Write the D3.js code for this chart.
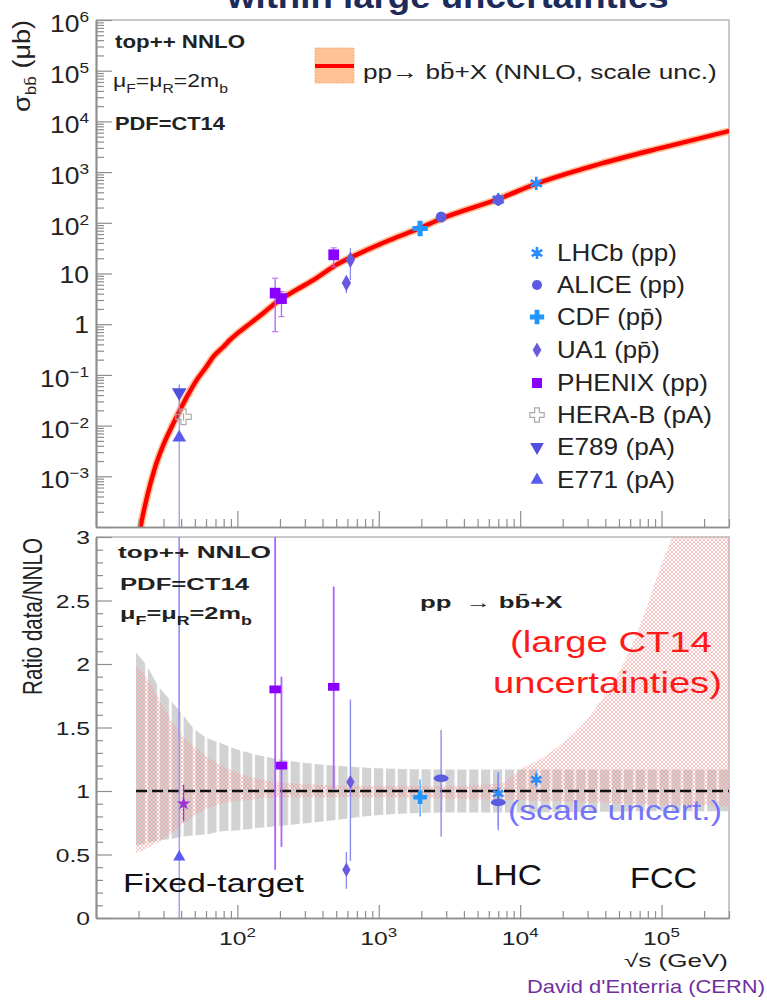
<!DOCTYPE html>
<html><head><meta charset="utf-8">
<script src="https://cdn.jsdelivr.net/npm/d3@7"></script>
<style>
body{margin:0;background:#fff}
svg{display:block}
text{font-family:"Liberation Sans",Arial,Helvetica,sans-serif;white-space:pre}
</style>
</head><body>
<svg id="c" width="767" height="1000"></svg>
<script>
// ---------------- DATA ----------------
// NNLO central prediction (sqrt(s) in GeV, sigma in microbarn)
const nnloSqrtS=[19.5,20,21,23,26,30,34.3,39.3,45,51.5,60,67.6,80,88.7,100,116,152,190,263,344,500,775,1200,1960,2760,7000,13000,36500,100000,300000];
const nnloSigma=[2.5e-5,5.6e-5,1.26e-4,4.0e-4,1.41e-3,4.2e-3,9.5e-3,0.0204,0.0417,0.079,0.141,0.229,0.363,0.49,0.66,0.91,1.64,2.75,4.8,7.4,14.8,26.9,45.7,79,120,295,589,1445,3020,6460];

// scale-uncertainty band (ratio to NNLO)
const scaleBandS=[19.2,23,27.4,33.3,40.6,48.5,61,75,104,144,225,474,970,3000,10000,100000,300000];
const scaleBandUp=[2.09,1.98,1.83,1.72,1.61,1.50,1.42,1.38,1.32,1.28,1.24,1.20,1.18,1.17,1.17,1.17,1.17];
const scaleBandDn=[0.57,0.59,0.61,0.62,0.64,0.65,0.66,0.68,0.69,0.71,0.73,0.77,0.81,0.83,0.83,0.84,0.84];

// CT14 PDF-uncertainty band (ratio to NNLO)
const pdfBandS=[19.2,24,30,37,46,61,84,123,190,370,830,3000,7200,10000,13800,19100,26500,36700,50800,70300,97500,118600,187000,300000];
const pdfBandUp=[1.99,1.85,1.66,1.50,1.38,1.27,1.18,1.11,1.07,1.05,1.04,1.04,1.06,1.17,1.25,1.36,1.50,1.70,1.95,2.30,2.75,3.0,3.8,4.5];
const pdfBandDn=[0.51,0.56,0.62,0.70,0.78,0.86,0.91,0.93,0.95,0.95,0.95,0.94,0.93,0.93,0.92,0.92,0.91,0.91,0.90,0.90,0.89,0.89,0.89,0.88];

// measurements
const expNames=["LHCb (pp)","ALICE (pp)","CDF (pp\u0304)","UA1 (pp\u0304)","PHENIX (pp)","HERA-B (pA)","E789 (pA)","E771 (pA)"];

const lhcbS=[7000,13000], lhcbSigma=[288,600], lhcbSigLo=[255,540], lhcbSigHi=[320,660];
const lhcbRatio=[0.98,1.09], lhcbRatioLo=[0.72,1.03], lhcbRatioHi=[1.15,1.16];

const aliceS=[2760,7000], aliceSigma=[130,282], aliceSigLo=[112,252], aliceSigHi=[150,312];
const aliceRatio=[1.10,0.91], aliceRatioLo=[0.64,0.69], aliceRatioHi=[1.48,1.13];

const cdfS=[1960], cdfSigma=[77], cdfSigLo=[66], cdfSigHi=[88];
const cdfRatio=[0.95], cdfRatioLo=[0.80], cdfRatioHi=[1.09];

const ua1S=[630,590], ua1Sigma=[18.7,6.5], ua1SigLo=[7.4,4.1], ua1SigHi=[32,8.7];
const ua1Ratio=[1.07,0.38], ua1RatioLo=[0.45,0.23], ua1RatioHi=[1.72,0.52];

const phenixS=[185,205,480], phenixSigma=[4.1,3.2,23.4], phenixSigLo=[0.71,1.41,13.5], phenixSigHi=[8.1,4.4,32];
const phenixRatio=[1.80,1.20,1.82], phenixRatioLo=[0.38,0.56,1.02], phenixRatioHi=[3.6,1.90,2.61];

const herabS=[41.6], herabSigma=[0.0149], herabSigLo=[0.0125], herabSigHi=[0.0175];
const herabRatio=[0.90], herabRatioLo=[0.76], herabRatioHi=[1.05];

const e789S=[38.8], e789Sigma=[0.045], e789SigLo=[0.018], e789SigHi=[0.065];
const e789Ratio=[3.6], e789RatioLo=[1.4], e789RatioHi=[5.8];

const e771S=[38.8], e771Sigma=[0.0058], e771SigLo=[0.00001], e771SigHi=[0.016];
const e771Ratio=[0.48], e771RatioLo=[0.0], e771RatioHi=[3.6];

const xMajorLabels=[100,1000,10000,100000];
const yRatioLabels=[0,0.5,1,1.5,2,2.5,3];

// ---------------- SETUP ----------------
const svg=d3.select("#c");
const x=d3.scaleLog().domain([10,3e5]).range([96,729]);
const yT=d3.scaleLog().domain([1e-4,1e6]).range([527,20]);
const yR=d3.scaleLinear().domain([0,3]).range([918,537]);

const defs=svg.append("defs");
defs.append("clipPath").attr("id","clipT").append("rect").attr("x",96).attr("y",20).attr("width",633).attr("height",507);
defs.append("clipPath").attr("id","clipR").append("rect").attr("x",96).attr("y",537).attr("width",633).attr("height",381);
const stripe=defs.append("pattern").attr("id","stripe").attr("patternUnits","userSpaceOnUse")
  .attr("x",136).attr("y",0).attr("width",11.9).attr("height",20);
stripe.append("rect").attr("width",9.2).attr("height",20).attr("fill","#d2d2d2");
const hatch=defs.append("pattern").attr("id","hatch").attr("patternUnits","userSpaceOnUse").attr("width",4).attr("height",4);
hatch.append("path").attr("d","M0,0L4,4M4,0L0,4").attr("stroke","#f39a9a").attr("stroke-width",0.6).attr("fill","none");

function addText(parent,xx,yy,parts,o={}){
  const size=o.size||16;
  const g=parent.append("g").attr("transform",`translate(${xx},${yy})`+(o.rot?` rotate(${o.rot})`:""));
  const t=g.append("text").attr("font-size",size).attr("font-weight",o.weight||"normal")
    .attr("fill",o.fill||"#222").attr("text-anchor",o.anchor||"start");
  let cur=0;
  (Array.isArray(parts)?parts:[parts]).forEach(p=>{
    if(typeof p==="string"){
      const ts=t.append("tspan").text(p);
      if(cur!==0){ts.attr("dy",-cur);cur=0;}
    } else {
      const off=p.sub!==undefined ? (o.subDy!==undefined?o.subDy:size*0.3) : -(o.supDy!==undefined?o.supDy:size*0.45);
      t.append("tspan").text(p.sub!==undefined?p.sub:p.sup).attr("font-size",o.subFs||size*0.65).attr("dy",off-cur);
      cur=off;
    }
  });
  const w=t.node().getBBox().width;
  const s=o.width? o.width/w : (o.sx||1);
  t.attr("transform",`scale(${s},${o.sy||1})`);
  return g;
}

function marker(g,sym,cx,cy,col,k=1,sxk=1,syk=1){
  let type, filled=true, sw=0;
  switch(sym){
    case "ast": type=d3.symbolAsterisk||d3.symbolCross; filled=!d3.symbolAsterisk; sw=2.6; break;
    case "circle": type=d3.symbolCircle; break;
    case "plus": type=d3.symbolCross; break;
    case "diamond": type=d3.symbolDiamond; break;
    case "square": type=d3.symbolSquare; break;
    case "ocross": type=d3.symbolCross; filled=false; sw=1.2; break;
    case "tdown": type=d3.symbolTriangle; break;
    case "tup": type=d3.symbolTriangle; break;
    case "star": type=d3.symbolStar; break;
  }
  const sizes={ast:110,circle:85,plus:120,diamond:70,square:105,ocross:120,tdown:85,tup:75,star:70};
  const p=g.append("path").attr("d",d3.symbol().type(type).size(sizes[sym]*k)())
    .attr("transform",`translate(${cx},${cy})`+(sym==="tdown"?" rotate(180)":"")+` scale(${sxk},${syk})`);
  if(filled) p.attr("fill",col).attr("stroke","none");
  else p.attr("fill","none").attr("stroke",col).attr("stroke-width",sw);
  return p;
}

const exps=[
 {S:lhcbS,sig:lhcbSigma,lo:lhcbSigLo,hi:lhcbSigHi,r:lhcbRatio,rlo:lhcbRatioLo,rhi:lhcbRatioHi,sym:"ast",col:"#2a8cff",ecol:"#5aaaff"},
 {S:aliceS,sig:aliceSigma,lo:aliceSigLo,hi:aliceSigHi,r:aliceRatio,rlo:aliceRatioLo,rhi:aliceRatioHi,sym:"circle",col:"#5c5ce0",ecol:"#8d8df0"},
 {S:cdfS,sig:cdfSigma,lo:cdfSigLo,hi:cdfSigHi,r:cdfRatio,rlo:cdfRatioLo,rhi:cdfRatioHi,sym:"plus",col:"#2196ff",ecol:"#4aa8ff"},
 {S:ua1S,sig:ua1Sigma,lo:ua1SigLo,hi:ua1SigHi,r:ua1Ratio,rlo:ua1RatioLo,rhi:ua1RatioHi,sym:"diamond",col:"#6a5ae0",ecol:"#8b8bf0"},
 {S:phenixS,sig:phenixSigma,lo:phenixSigLo,hi:phenixSigHi,r:phenixRatio,rlo:phenixRatioLo,rhi:phenixRatioHi,sym:"square",col:"#8a00ff",ecol:"#b060ff"},
 {S:herabS,sig:herabSigma,lo:herabSigLo,hi:herabSigHi,r:herabRatio,rlo:herabRatioLo,rhi:herabRatioHi,sym:"ocross",col:"#aaaaaa",ecol:"#aaaaaa",rsym:"star",rcol:"#9a35d0",recol:"#8a4ab0"},
 {S:e789S,sig:e789Sigma,lo:e789SigLo,hi:e789SigHi,r:e789Ratio,rlo:e789RatioLo,rhi:e789RatioHi,sym:"tdown",col:"#5050dd",ecol:"#8a8af5"},
 {S:e771S,sig:e771Sigma,lo:e771SigLo,hi:e771SigHi,r:e771Ratio,rlo:e771RatioLo,rhi:e771RatioHi,sym:"tup",col:"#5a5aee",ecol:"#9a9af8"}
];

const AX="#8e8e8e", FR="#b8b8b8";

// ---------------- AXES ----------------
function splitLog(vals){
  const isMaj=v=>Math.abs(Math.log10(v)-Math.round(Math.log10(v)))<1e-9;
  return [vals.filter(isMaj),vals.filter(v=>!isMaj(v))];
}
function xAxis(y0,majLen,minLen){
  const [maj,min]=splitLog(x.ticks());
  svg.append("g").attr("class","ax").attr("transform",`translate(0,${y0})`)
    .call(d3.axisBottom(x).tickValues(maj).tickSize(-majLen).tickSizeOuter(0).tickFormat(""));
  svg.append("g").attr("class","ax").attr("transform",`translate(0,${y0})`)
    .call(d3.axisBottom(x).tickValues(min).tickSize(-minLen).tickSizeOuter(0).tickFormat(""));
}
function frame(y0,y1){
  svg.append("path").attr("d",`M96,${y0}H729V${y1}`).attr("fill","none").attr("stroke",FR).attr("stroke-width",1.5);
}
frame(20,527); frame(537,918);

// ---------------- TOP PANEL ----------------
const gT=svg.append("g").attr("clip-path","url(#clipT)");
const nnlo=nnloSqrtS.map((s,i)=>({s,v:nnloSigma[i]}));
const line=d3.line().x(d=>x(d.s)).y(d=>yT(d.v)).curve(d3.curveMonotoneX);
gT.append("path").attr("d",line(nnlo)).attr("fill","none").attr("stroke","#ffbf94").attr("stroke-width",7.5).attr("stroke-linecap","round");
gT.append("path").attr("d",line(nnlo)).attr("fill","none").attr("stroke","#ff0000").attr("stroke-width",4.4).attr("stroke-linecap","round");

exps.forEach(e=>{
  e.S.forEach((s,i)=>{
    gT.append("line").attr("x1",x(s)).attr("x2",x(s)).attr("y1",yT(e.lo[i])).attr("y2",yT(e.hi[i]))
      .attr("stroke",e.ecol).attr("stroke-width",1.3);
    if(e.sym==="square"){
      [e.lo[i],e.hi[i]].forEach(v=>gT.append("line").attr("x1",x(s)-3).attr("x2",x(s)+3).attr("y1",yT(v)).attr("y2",yT(v)).attr("stroke",e.ecol).attr("stroke-width",1));
    }
  });
});
exps.forEach(e=>{
  e.S.forEach((s,i)=>marker(gT,e.sym,x(s),yT(e.sig[i]),e.col,1.1));
});

xAxis(527,16,8);
{
  const [maj,min]=splitLog(yT.ticks(20));
  svg.append("g").attr("class","ax").attr("transform","translate(96,0)")
    .call(d3.axisLeft(yT).tickValues(maj).tickSize(-16).tickSizeOuter(0).tickFormat(""));
  svg.append("g").attr("class","ax").attr("transform","translate(96,0)")
    .call(d3.axisLeft(yT).tickValues(min).tickSize(-8).tickSizeOuter(0).tickFormat(""));
  maj.forEach(v=>{
    const e=Math.round(Math.log10(v));
    if(e===-4) return;
    if(e===0) addText(svg,89,yT(v)+9,"1",{size:23,anchor:"end",sx:1.15});
    else if(e===1) addText(svg,89,yT(v)+9,"10",{size:23,anchor:"end",sx:1.15});
    else addText(svg,89,yT(v)+12,["10",{sup:(e<0?"\u2212":"")+Math.abs(e)}],{size:23,anchor:"end",sx:1.15,subFs:15,supDy:10});
  });
}
addText(svg,30,20,["\u03c3",{sub:"bb\u0304"}," (\u03bcb)"],{size:22,rot:-90,anchor:"end",width:92,sy:1.05,subFs:14,subDy:6});

// title (cut off at top edge, as in the reference)
addText(svg,227,8,"within large uncertainties",{size:34,weight:"bold",fill:"#1c2b5a",width:443});

addText(svg,115,48,"top++ NNLO",{size:18,weight:"bold",width:130});
addText(svg,113,87,["\u03bc",{sub:"F"},"=\u03bc",{sub:"R"},"=2m",{sub:"b"}],{size:19,width:115,subFs:13,subDy:6});
addText(svg,115,130,"PDF=CT14",{size:18,weight:"bold",width:110});

svg.append("rect").attr("x",315).attr("y",48).attr("width",39).attr("height",35).attr("fill","#fdc296").attr("stroke","#f6a66e").attr("stroke-width",0.8).attr("stroke-dasharray","2,1");
svg.append("line").attr("x1",315).attr("x2",354).attr("y1",66).attr("y2",66).attr("stroke","#ff0000").attr("stroke-width",4);
addText(svg,363,79,"pp\u2192 bb\u0304+X (NNLO, scale unc.)",{size:21,width:354});

const legRows=[253,285,317,350,383,415,447,480];
const legW=[120,128,106,103,151,155,118,118];
exps.forEach((e,i)=>{
  marker(svg,e.sym,537,legRows[i],e.col,0.95);
  addText(svg,557,legRows[i]+8,expNames[i],{size:23,width:legW[i]});
});

// ---------------- RATIO PANEL ----------------
const gR=svg.append("g").attr("clip-path","url(#clipR)");
const sBand=scaleBandS.map((s,i)=>({s,hi:scaleBandUp[i],lo:scaleBandDn[i]}));
const pBand=pdfBandS.map((s,i)=>({s,hi:pdfBandUp[i],lo:pdfBandDn[i]}));
const area=d3.area().x(d=>x(d.s)).y0(d=>yR(d.lo)).y1(d=>yR(d.hi)).curve(d3.curveMonotoneX);
gR.append("path").attr("d",area(sBand)).attr("fill","url(#stripe)");
gR.append("path").attr("d",area(pBand)).attr("fill","url(#hatch)");
gR.append("line").attr("x1",x(scaleBandS[0])).attr("x2",x(scaleBandS[scaleBandS.length-1]))
  .attr("y1",yR(1)).attr("y2",yR(1)).attr("stroke","#111").attr("stroke-width",2.6).attr("stroke-dasharray","11,5");

exps.forEach(e=>{
  e.S.forEach((s,i)=>{
    gR.append("line").attr("x1",x(s)).attr("x2",x(s)).attr("y1",yR(e.rlo[i])).attr("y2",yR(e.rhi[i]))
      .attr("stroke",e.recol||e.ecol).attr("stroke-width",e.sym==="square"?1.8:1.4);
  });
});
exps.forEach(e=>{
  e.S.forEach((s,i)=>{
    const sym=e.rsym||e.sym, col=e.rcol||e.col;
    if(sym==="circle") marker(gR,sym,x(s),yR(e.r[i]),col,0.8,1.6,0.8);
    else if(sym==="square") marker(gR,sym,x(s),yR(e.r[i]),col,0.8,1.25,0.85);
    else marker(gR,sym,x(s),yR(e.r[i]),col,0.85);
  });
});

xAxis(918,13,7);
{
  const all=yR.ticks(30);
  const maj=all.filter(v=>Math.abs(v*2-Math.round(v*2))<1e-9);
  const min=all.filter(v=>!maj.includes(v));
  svg.append("g").attr("class","ax").attr("transform","translate(96,0)")
    .call(d3.axisLeft(yR).tickValues(maj).tickSize(-16).tickSizeOuter(0).tickFormat(""));
  svg.append("g").attr("class","ax").attr("transform","translate(96,0)")
    .call(d3.axisLeft(yR).tickValues(min).tickSize(-7).tickSizeOuter(0).tickFormat(""));
  yRatioLabels.forEach(v=>addText(svg,90,yR(v)+7,String(v),{size:19,anchor:"end",sx:1.3}));
}
xMajorLabels.forEach(v=>{
  addText(svg,x(v),945,["10",{sup:String(Math.round(Math.log10(v)))}],{size:19,anchor:"middle",sx:1.3,subFs:13,supDy:8});
});

addText(svg,42,538,"Ratio data/NNLO",{size:20.5,rot:-90,anchor:"end",width:157,sy:1.35});
addText(svg,728,967,"\u221as (GeV)",{size:18,anchor:"end",width:104});
addText(svg,527,993,"David d'Enterria (CERN)",{size:18,width:238,fill:"#7030a0"});

addText(svg,118,558,"top++ NNLO",{size:17,weight:"bold",width:153});
addText(svg,120,590,"PDF=CT14",{size:17,weight:"bold",width:130});
addText(svg,120,619,["\u03bc",{sub:"F"},"=\u03bc",{sub:"R"},"=2m",{sub:"b"}],{size:17,weight:"bold",width:132,subFs:12,subDy:6});
addText(svg,420,608,"pp  \u2192 bb\u0304+X",{size:16,weight:"bold",width:143});

addText(svg,510,652,"(large CT14",{size:30,fill:"#ff1a1a",width:202});
addText(svg,493,693,"uncertainties)",{size:30,fill:"#ff1a1a",width:229});
addText(svg,508,820,"(scale uncert.)",{size:27,fill:"#7474fa",width:214});
addText(svg,123,892,"Fixed-target",{size:26,fill:"#111",width:182});
addText(svg,475,885,"LHC",{size:29,fill:"#111",width:67});
addText(svg,630,888,"FCC",{size:29,fill:"#111",width:67});

svg.selectAll(".ax path.domain").attr("stroke",AX).attr("stroke-width",1.7);
svg.selectAll(".ax .tick line").attr("stroke",AX).attr("stroke-width",1.2);
</script>
</body></html>
